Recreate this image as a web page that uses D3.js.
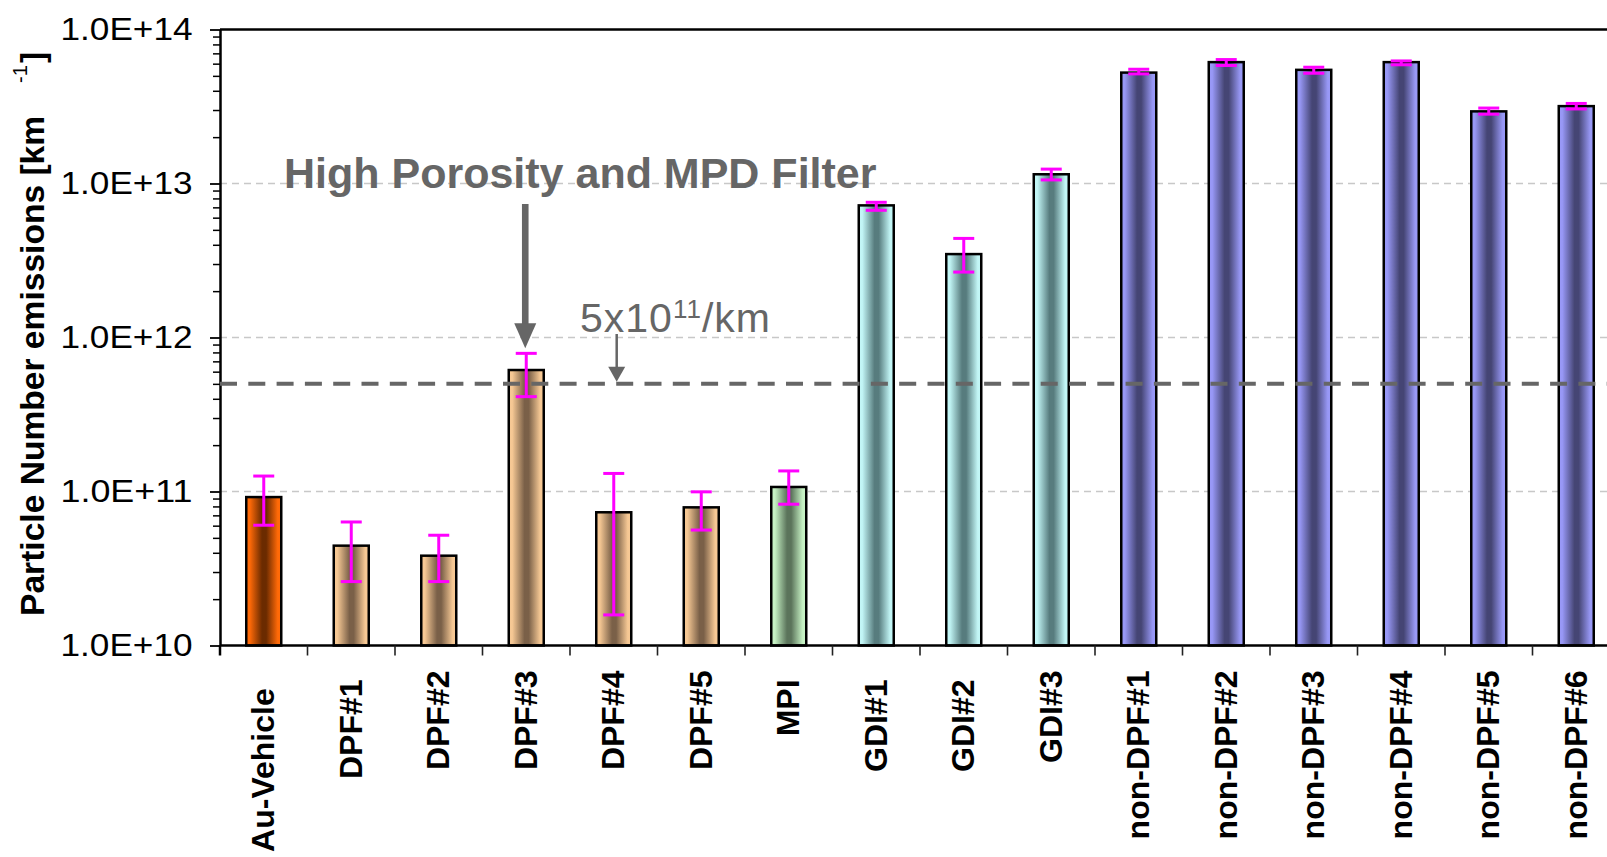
<!DOCTYPE html>
<html>
<head>
<meta charset="utf-8">
<script src="https://cdn.jsdelivr.net/npm/d3@7"></script>
<style>
  html, body { margin: 0; padding: 0; background: #fff; }
  svg { display: block; }
  text { font-family: "Liberation Sans", Arial, Helvetica, sans-serif; }
</style>
</head>
<body>
<svg id="chart" width="1607" height="857"></svg>
<script>
// Vehicle categories (trailing spaces keep Excel-style label offsets)
const categories = ["Au-Vehicle  ", "DPF#1 ", "DPF#2", "DPF#3", "DPF#4", "DPF#5", "MPI ",
  "GDI#1 ", "GDI#2 ", "GDI#3", "non-DPF#1", "non-DPF#2", "non-DPF#3", "non-DPF#4",
  "non-DPF#5", "non-DPF#6"];
const vehicleGroups = ["Au", "DPF", "DPF", "DPF", "DPF", "DPF", "MPI", "GDI", "GDI", "GDI",
  "nonDPF", "nonDPF", "nonDPF", "nonDPF", "nonDPF", "nonDPF"];

// Mean particle number emissions [#/km] and error bar limits
const pnMean  = [9.2e10, 4.45e10, 3.83e10, 6.15e11, 7.33e10, 7.89e10, 1.07e11,
  7.21e12, 3.48e12, 1.148e13, 5.25e13, 6.14e13, 5.47e13, 6.14e13, 2.94e13, 3.18e13];
const pnUpper = [1.26e11, 6.34e10, 5.2e10, 7.89e11, 1.31e11, 9.95e10, 1.36e11,
  7.55e12, 4.4e12, 1.24e13, 5.52e13, 6.38e13, 5.69e13, 6.25e13, 3.09e13, 3.31e13];
const pnLower = [6.04e10, 2.6e10, 2.6e10, 4.13e11, 1.58e10, 5.62e10, 8.27e10,
  6.7e12, 2.66e12, 1.055e13, 5.15e13, 5.84e13, 5.2e13, 5.9e13, 2.82e13, 3.05e13];

const yTickValues = [1e10, 1e11, 1e12, 1e13, 1e14];
const yTickLabels = ["1.0E+10", "1.0E+11", "1.0E+12", "1.0E+13", "1.0E+14"];
const pnLimit = 5e11;

// Bar shading: [edge colour, centre colour]
const groupColors = {
  Au:     ["#FF6A08", "#6B2B00"],
  DPF:    ["#F6C894", "#7A6048"],
  MPI:    ["#C6F2C4", "#5B745B"],
  GDI:    ["#C2F6F6", "#577C7E"],
  nonDPF: ["#9898F6", "#454574"]
};

const svg = d3.select("#chart");
const plotLeft = 220, plotRight = 1620, plotTop = 29.5, plotBottom = 645.5;

const x = d3.scaleBand().domain(categories).range([plotLeft, plotRight])
  .paddingInner(0.6).paddingOuter(0.3);
const y = d3.scaleLog().domain([1e10, 1e14]).range([plotBottom, plotTop]);
const bw = x.bandwidth();
const step = x.step();

// gradients
const defs = svg.append("defs");
Object.entries(groupColors).forEach(([key, [edge, mid]]) => {
  const g = defs.append("linearGradient").attr("id", "grad-" + key)
    .attr("x1", 0).attr("x2", 1).attr("y1", 0).attr("y2", 0);
  [[0, edge], [0.1, edge], [0.45, mid], [0.57, mid], [0.9, edge], [1, edge]].forEach(([o, c]) =>
    g.append("stop").attr("offset", o).attr("stop-color", c));
});

// light dashed gridlines at the decades
svg.append("g").selectAll("line").data([1e11, 1e12, 1e13]).join("line")
  .attr("x1", plotLeft).attr("x2", plotRight)
  .attr("y1", d => y(d)).attr("y2", d => y(d))
  .attr("stroke", "#c8c8c8").attr("stroke-width", 1.3).attr("stroke-dasharray", "7,5");

// bars
svg.append("g").selectAll("rect").data(categories).join("rect")
  .attr("x", d => x(d))
  .attr("y", (d, i) => y(pnMean[i]))
  .attr("width", bw)
  .attr("height", (d, i) => y(1e10) - y(pnMean[i]))
  .attr("fill", (d, i) => `url(#grad-${vehicleGroups[i]})`)
  .attr("stroke", "#000").attr("stroke-width", 2.5);

// error bars
const eb = svg.append("g").attr("stroke", "#FF00FF").attr("stroke-width", 3);
categories.forEach((c, i) => {
  const cx = x(c) + bw / 2;
  eb.append("line").attr("x1", cx).attr("x2", cx).attr("y1", y(pnUpper[i])).attr("y2", y(pnLower[i]));
  [pnUpper[i], pnLower[i]].forEach(v =>
    eb.append("line").attr("x1", cx - 10.5).attr("x2", cx + 10.5).attr("y1", y(v)).attr("y2", y(v)));
});

// top frame line
svg.append("line").attr("x1", plotLeft).attr("x2", plotRight)
  .attr("y1", plotTop).attr("y2", plotTop).attr("stroke", "#000").attr("stroke-width", 2.5);

// y axis: major and minor ticks
const minorTicks = [];
for (let e = 10; e < 14; e++) for (let m = 2; m <= 9; m++) minorTicks.push(m * Math.pow(10, e));

const yMinor = svg.append("g").attr("transform", `translate(${plotLeft},0)`)
  .call(d3.axisLeft(y).tickValues(minorTicks).tickSize(7).tickSizeOuter(0).tickFormat(""));
yMinor.select(".domain").remove();
yMinor.selectAll("line").attr("stroke", "#000").attr("stroke-width", 1.5);

const yAxis = svg.append("g").attr("transform", `translate(${plotLeft},0)`)
  .call(d3.axisLeft(y).tickValues(yTickValues).tickSize(10).tickSizeOuter(0).tickPadding(17.5)
    .tickFormat((d, i) => yTickLabels[i]));
yAxis.select(".domain").attr("stroke", "#000").attr("stroke-width", 2.5);
yAxis.selectAll(".tick line").attr("stroke", "#000").attr("stroke-width", 1.8);
yAxis.selectAll(".tick text")
  .attr("font-size", 31).attr("fill", "#000").attr("dy", "0.33em")
  .attr("font-family", '"Liberation Sans", Arial, sans-serif')
  .attr("textLength", 132).attr("lengthAdjust", "spacingAndGlyphs");

// x axis baseline, boundary ticks and the y axis extension below it
svg.append("line").attr("x1", plotLeft).attr("x2", plotRight)
  .attr("y1", plotBottom).attr("y2", plotBottom).attr("stroke", "#000").attr("stroke-width", 2.5);
svg.append("line").attr("x1", plotLeft).attr("x2", plotLeft)
  .attr("y1", plotBottom).attr("y2", plotBottom + 10).attr("stroke", "#000").attr("stroke-width", 2.5);
const boundaries = categories.map(c => x(c) - (step - bw) / 2).concat([plotRight]);
svg.append("g").selectAll("line").data(boundaries.slice(1)).join("line")
  .attr("x1", d => d).attr("x2", d => d)
  .attr("y1", plotBottom).attr("y2", plotBottom + 10)
  .attr("stroke", "#222").attr("stroke-width", 1.6);

// category labels, rotated
svg.append("g").selectAll("text").data(categories).join("text")
  .attr("transform", d => `translate(${x(d) + bw / 2 + 10.5},670.5) rotate(-90)`)
  .attr("text-anchor", "end")
  .attr("font-size", 32).attr("font-weight", "bold").attr("fill", "#000")
  .style("white-space", "pre")
  .text(d => d);

// y axis title
const yTitle = svg.append("g").attr("transform", "translate(44,616) rotate(-90)");
yTitle.append("text").attr("x", 0).attr("y", 0)
  .attr("font-size", 33.6).attr("font-weight", "bold").attr("fill", "#000")
  .text("Particle Number emissions [km");
yTitle.append("text").attr("x", 533).attr("y", -17)
  .attr("font-size", 20).attr("fill", "#000").text("-1");
yTitle.append("text").attr("x", 553).attr("y", 0)
  .attr("font-size", 33.6).attr("font-weight", "bold").attr("fill", "#000").text("]");

// emission limit line
svg.append("line").attr("x1", plotLeft).attr("x2", plotRight)
  .attr("y1", y(pnLimit)).attr("y2", y(pnLimit))
  .attr("stroke", "#666").attr("stroke-width", 4).attr("stroke-dasharray", "17,11.3");

// annotation: high porosity filter
const grey = "#666666";
svg.append("text").attr("x", 284).attr("y", 188)
  .attr("font-size", 43).attr("font-weight", "bold").attr("fill", grey)
  .text("High Porosity and MPD Filter");

const ax = x("DPF#3") + bw / 2 - 1;
const tipY = y(pnUpper[3]) - 5;
svg.append("rect").attr("x", ax - 3.3).attr("y", 204).attr("width", 6.6).attr("height", tipY - 24 - 204)
  .attr("fill", grey);
svg.append("path")
  .attr("d", `M${ax - 11},${tipY - 25} L${ax + 11},${tipY - 25} L${ax},${tipY} Z`)
  .attr("fill", grey);

// annotation: limit value
const lim = svg.append("text").attr("x", 580).attr("y", 331.7)
  .attr("font-size", 41).attr("fill", grey).attr("letter-spacing", 1);
lim.append("tspan").text("5x10");
lim.append("tspan").attr("font-size", 26).attr("dy", -14).text("11");
lim.append("tspan").attr("dy", 14).text("/km");

const sx = 616.7;
const limY = y(pnLimit) - 2;
svg.append("line").attr("x1", sx).attr("x2", sx).attr("y1", 334).attr("y2", limY - 14)
  .attr("stroke", grey).attr("stroke-width", 2.5);
svg.append("path")
  .attr("d", `M${sx - 8.5},${limY - 15} L${sx + 8.5},${limY - 15} L${sx},${limY} Z`)
  .attr("fill", grey);
</script>
</body>
</html>
